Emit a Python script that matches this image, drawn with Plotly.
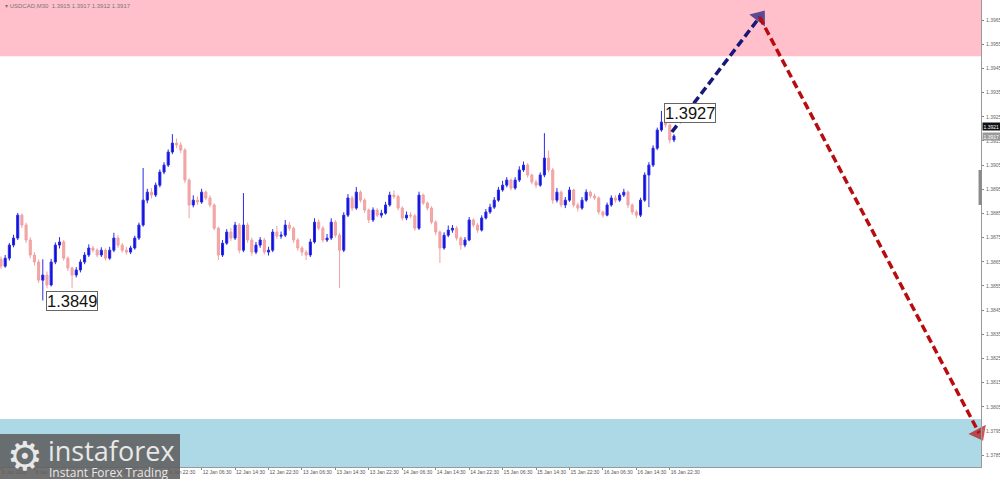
import plotly.graph_objects as go

# ---------------- data (USDCAD, M30; one candle per hour) ----------------
opens = [1.38660,1.38632,1.38665,1.38719,1.38748,1.38843,1.38802,1.38740,1.38678,1.38649,
 1.38574,1.38595,1.38554,1.38649,1.38719,1.38732,1.38665,1.38624,1.38595,1.38616,
 1.38649,1.38678,1.38707,1.38698,1.38678,1.38698,1.38665,1.38698,1.38748,1.38719,
 1.38698,1.38690,1.38707,1.38748,1.38802,1.38905,1.38938,1.38926,1.38967,1.39021,
 1.39050,1.39104,1.39141,1.39133,1.39112,1.38988,1.38885,1.38905,1.38897,1.38938,
 1.38914,1.38885,1.38789,1.38678,1.38727,1.38773,1.38748,1.38802,1.38698,1.38802,
 1.38740,1.38690,1.38719,1.38740,1.38690,1.38698,1.38773,1.38756,1.38760,1.38802,
 1.38789,1.38740,1.38707,1.38690,1.38678,1.38732,1.38814,1.38789,1.38740,1.38748,
 1.38814,1.38760,1.38698,1.38843,1.38914,1.38872,1.38938,1.38905,1.38864,1.38823,
 1.38864,1.38843,1.38851,1.38885,1.38926,1.38920,1.38872,1.38831,1.38843,1.38840,
 1.38789,1.38926,1.38893,1.38872,1.38814,1.38773,1.38707,1.38760,1.38781,1.38789,
 1.38748,1.38719,1.38740,1.38823,1.38802,1.38781,1.38831,1.38856,1.38876,1.38905,
 1.38947,1.38967,1.38988,1.38955,1.38988,1.39030,1.39050,1.39009,1.38980,1.38967,
 1.39009,1.39079,1.39030,1.38905,1.38938,1.38885,1.38905,1.38947,1.38885,1.38872,
 1.38905,1.38938,1.38922,1.38914,1.38856,1.38843,1.38885,1.38914,1.38905,1.38926,
 1.38938,1.38885,1.38856,1.38843,1.38905,1.39009,1.39050,1.39120,1.39195,1.39228,
 1.39216,1.39154]

highs = [1.38672,1.38678,1.38728,1.38762,1.38852,1.38850,1.38812,1.38752,1.38690,1.38660,
 1.38660,1.38610,1.38662,1.38730,1.38752,1.38740,1.38672,1.38630,1.38628,1.38660,
 1.38690,1.38722,1.38716,1.38706,1.38710,1.38705,1.38712,1.38770,1.38760,1.38728,
 1.38712,1.38716,1.38758,1.38812,1.39038,1.38952,1.38955,1.38978,1.39032,1.39062,
 1.39115,1.39178,1.39160,1.39145,1.39120,1.38995,1.38925,1.38920,1.38952,1.38945,
 1.38925,1.38892,1.38795,1.38740,1.38785,1.38790,1.38815,1.38810,1.38934,1.38812,
 1.38750,1.38732,1.38752,1.38748,1.38712,1.38785,1.38798,1.38775,1.38823,1.38815,
 1.38795,1.38748,1.38715,1.38700,1.38745,1.38830,1.38825,1.38798,1.38765,1.38830,
 1.38822,1.38770,1.38855,1.38930,1.38922,1.38959,1.38945,1.38912,1.38870,1.38875,
 1.38872,1.38865,1.38898,1.38940,1.38945,1.38928,1.38880,1.38858,1.38855,1.38848,
 1.38940,1.38932,1.38900,1.38880,1.38822,1.38780,1.38772,1.38800,1.38802,1.38798,
 1.38755,1.38752,1.38835,1.38830,1.38810,1.38842,1.38868,1.38890,1.38918,1.38960,
 1.38985,1.39000,1.38995,1.39000,1.39045,1.39065,1.39058,1.39015,1.38990,1.39020,
 1.39182,1.39110,1.39038,1.38955,1.38945,1.38918,1.38960,1.38952,1.38895,1.38918,
 1.38950,1.38945,1.38932,1.38920,1.38862,1.38895,1.38925,1.38925,1.38935,1.38952,
 1.38945,1.38892,1.38865,1.38915,1.39020,1.39062,1.39132,1.39205,1.39274,1.39240,
 1.39222,1.39178]

lows = [1.38620,1.38625,1.38655,1.38710,1.38740,1.38790,1.38728,1.38665,1.38635,1.38562,
 1.38490,1.38540,1.38548,1.38640,1.38705,1.38655,1.38612,1.38541,1.38585,1.38606,
 1.38640,1.38670,1.38688,1.38668,1.38670,1.38655,1.38658,1.38690,1.38708,1.38688,
 1.38680,1.38682,1.38700,1.38740,1.38795,1.38892,1.38912,1.38918,1.38958,1.39012,
 1.39042,1.39095,1.39120,1.39100,1.38975,1.38830,1.38875,1.38885,1.38890,1.38905,
 1.38875,1.38780,1.38657,1.38670,1.38720,1.38735,1.38740,1.38685,1.38690,1.38728,
 1.38675,1.38682,1.38708,1.38680,1.38676,1.38690,1.38745,1.38745,1.38752,1.38778,
 1.38728,1.38695,1.38675,1.38657,1.38670,1.38725,1.38780,1.38730,1.38732,1.38740,
 1.38750,1.38541,1.38690,1.38835,1.38860,1.38865,1.38895,1.38852,1.38810,1.38815,
 1.38835,1.38832,1.38845,1.38878,1.38910,1.38862,1.38820,1.38822,1.38830,1.38778,
 1.38782,1.38885,1.38862,1.38805,1.38760,1.38645,1.38700,1.38752,1.38770,1.38738,
 1.38700,1.38710,1.38735,1.38792,1.38770,1.38775,1.38825,1.38848,1.38868,1.38898,
 1.38940,1.38958,1.38945,1.38948,1.38980,1.39022,1.38998,1.38970,1.38955,1.38960,
 1.39000,1.39020,1.38890,1.38895,1.38875,1.38872,1.38898,1.38875,1.38858,1.38865,
 1.38898,1.38912,1.38905,1.38845,1.38832,1.38838,1.38878,1.38895,1.38898,1.38918,
 1.38872,1.38845,1.38830,1.38835,1.38898,1.38876,1.39042,1.39112,1.39188,1.39205,
 1.39140,1.39145]

closes = [1.38632,1.38665,1.38719,1.38748,1.38843,1.38802,1.38740,1.38678,1.38649,1.38574,
 1.38595,1.38554,1.38649,1.38719,1.38732,1.38665,1.38624,1.38595,1.38616,1.38649,
 1.38678,1.38707,1.38698,1.38678,1.38698,1.38665,1.38698,1.38748,1.38719,1.38698,
 1.38690,1.38707,1.38748,1.38802,1.38905,1.38938,1.38926,1.38967,1.39021,1.39050,
 1.39104,1.39141,1.39133,1.39112,1.38988,1.38885,1.38905,1.38897,1.38938,1.38914,
 1.38885,1.38789,1.38678,1.38727,1.38773,1.38748,1.38802,1.38698,1.38802,1.38740,
 1.38690,1.38719,1.38740,1.38690,1.38698,1.38773,1.38756,1.38760,1.38802,1.38789,
 1.38740,1.38707,1.38690,1.38678,1.38732,1.38814,1.38789,1.38740,1.38748,1.38814,
 1.38760,1.38698,1.38843,1.38914,1.38872,1.38938,1.38905,1.38864,1.38823,1.38864,
 1.38843,1.38851,1.38885,1.38926,1.38920,1.38872,1.38831,1.38843,1.38840,1.38789,
 1.38926,1.38893,1.38872,1.38814,1.38773,1.38707,1.38760,1.38781,1.38789,1.38748,
 1.38719,1.38740,1.38823,1.38802,1.38781,1.38831,1.38856,1.38876,1.38905,1.38947,
 1.38967,1.38988,1.38955,1.38988,1.39030,1.39050,1.39009,1.38980,1.38967,1.39009,
 1.39079,1.39030,1.38905,1.38938,1.38885,1.38905,1.38947,1.38885,1.38872,1.38905,
 1.38938,1.38922,1.38914,1.38856,1.38843,1.38885,1.38914,1.38905,1.38926,1.38938,
 1.38885,1.38856,1.38843,1.38905,1.39009,1.39050,1.39120,1.39195,1.39228,1.39216,
 1.39154,1.39170]

# bar position in M30 bars (one hourly candle every 2 bars)
bar_pos = list(range(0, 2 * len(closes), 2))

tick_bars = [0, 16, 32, 48, 64, 80, 96, 112, 128, 144, 160, 176, 192, 208, 224, 240, 256, 272, 288, 304, 320]
tick_labels = ["8 Jan 2026", "8 Jan 14:30", "8 Jan 22:30", "9 Jan 06:30", "9 Jan 14:30", "9 Jan 22:30",
               "12 Jan 06:30", "12 Jan 14:30", "12 Jan 22:30", "13 Jan 06:30", "13 Jan 14:30", "13 Jan 22:30",
               "14 Jan 06:30", "14 Jan 14:30", "14 Jan 22:30", "15 Jan 06:30", "15 Jan 14:30", "15 Jan 22:30",
               "16 Jan 06:30", "16 Jan 14:30", "16 Jan 22:30"]
price_ticks = [1.3785, 1.3795, 1.3805, 1.3815, 1.3825, 1.3835, 1.3845, 1.3855, 1.3865, 1.3875,
               1.3885, 1.3895, 1.3905, 1.3915, 1.3925, 1.3935, 1.3945, 1.3955, 1.3965]

resistance_zone = [1.3950, 1.39733]
support_zone = [1.3780, 1.3800]

wave_up_bars = [321, 363]
wave_up_prices = [1.39187, 1.39662]
wave_down_bars = [363, 468]
wave_down_prices = [1.39662, 1.37941]

bid_price = 1.3921
last_price = 1.3917
header = "USDCAD,M30  1.3915 1.3917 1.3912 1.3917"

x_range = [-0.48, 468.9]
y_range = [1.37801, 1.39733]

FONT = "Liberation Sans"

# ---------------- figure ----------------
fig = go.Figure()

fig.add_trace(go.Candlestick(
    x=bar_pos, open=opens, high=highs, low=lows, close=closes,
    increasing=dict(line=dict(color="#2a2ae6", width=1), fillcolor="#0a0ad8"),
    decreasing=dict(line=dict(color="#f2a0a0", width=1), fillcolor="#f4a8a8"),
    whiskerwidth=0, showlegend=False, hoverinfo="skip",
))

# forecast arrows
fig.add_trace(go.Scatter(
    x=wave_up_bars, y=wave_up_prices, mode="lines+markers",
    line=dict(color="#16187a", width=3.5, dash="8px,4px"),
    marker=dict(symbol="triangle-up", size=[0, 17], color="#16187a", angleref="previous",
                line=dict(width=0)),
    showlegend=False, hoverinfo="skip", cliponaxis=False,
))
fig.add_trace(go.Scatter(
    x=wave_down_bars, y=wave_down_prices, mode="lines+markers",
    line=dict(color="#b80d10", width=3.5, dash="8px,4px"),
    marker=dict(symbol="triangle-up", size=[0, 17], color="#b80d10", angleref="previous",
                line=dict(width=0)),
    showlegend=False, hoverinfo="skip", cliponaxis=False,
))

shapes = [
    dict(type="rect", xref="paper", yref="y", x0=0, x1=1, y0=resistance_zone[0], y1=resistance_zone[1],
         fillcolor="pink", line=dict(width=0), layer="below"),
    dict(type="rect", xref="paper", yref="y", x0=0, x1=1, y0=support_zone[0], y1=support_zone[1],
         fillcolor="lightblue", line=dict(width=0), layer="below"),
    # logo background
    dict(type="rect", xref="paper", yref="paper", x0=0, x1=180 / 981, y0=-12 / 467, y1=33 / 467,
         fillcolor="rgba(95,95,95,0.88)", line=dict(width=0), layer="above"),
    # scroll marker on price scale
    dict(type="rect", xref="paper", yref="paper", x0=0.9975, x1=1.0008, y0=262 / 467, y1=297 / 467,
         fillcolor="#8a8a8a", line=dict(width=0), layer="above"),
]

# extreme labels
hi_idx = max(range(len(highs)), key=lambda i: highs[i])
lo_idx = min(range(len(lows)), key=lambda i: lows[i])
annotations = [
    dict(x=bar_pos[hi_idx], y=highs[hi_idx], xref="x", yref="y", text=f"{highs[hi_idx]:.4f}",
         showarrow=False, xanchor="left", yanchor="middle", xshift=3, yshift=-2,
         font=dict(family=FONT, size=16.5, color="#111"),
         bgcolor="white", bordercolor="#666", borderwidth=1, borderpad=0),
    dict(x=bar_pos[lo_idx], y=lows[lo_idx], xref="x", yref="y", text=f"{lows[lo_idx]:.4f}",
         showarrow=False, xanchor="left", yanchor="middle", xshift=3, yshift=-1,
         font=dict(family=FONT, size=16.5, color="#111"),
         bgcolor="white", bordercolor="#666", borderwidth=1, borderpad=0),
    # header
    dict(x=0.003, y=1, xref="paper", yref="paper", text="▾ " + header, showarrow=False,
         xanchor="left", yanchor="top", yshift=-1,
         font=dict(family=FONT, size=6, color="#777")),
    # price labels on right scale
    dict(x=1, y=bid_price, xref="paper", yref="y", text=f"{bid_price:.4f}", showarrow=False,
         xanchor="left", yanchor="middle", xshift=1, bgcolor="#111", borderpad=0.5,
         font=dict(family=FONT, size=5, color="white")),
    dict(x=1, y=last_price, xref="paper", yref="y", text=f"{last_price:.4f}", showarrow=False,
         xanchor="left", yanchor="middle", xshift=1, bgcolor="#9a9a9a", borderpad=0.5,
         font=dict(family=FONT, size=5, color="white")),
    # logo
    dict(x=25 / 981, y=11 / 467, xref="paper", yref="paper", text="⚙", showarrow=False,
         xanchor="center", yanchor="middle",
         font=dict(family="DejaVu Sans", size=40, color="#e8e8e8")),
    dict(x=46 / 981, y=17 / 467, xref="paper", yref="paper", text="instaforex", showarrow=False,
         xanchor="left", yanchor="middle",
         font=dict(family="Open Sans", size=27, color="#e8e8e8")),
    dict(x=47 / 981, y=-5 / 467, xref="paper", yref="paper", text="Instant Forex Trading",
         showarrow=False, xanchor="left", yanchor="middle",
         font=dict(family="Open Sans", size=12, color="#e8e8e8")),
]

fig.update_layout(
    width=1000, height=479,
    margin=dict(l=0, r=19, t=0, b=12, autoexpand=False),
    paper_bgcolor="white", plot_bgcolor="white",
    shapes=shapes, annotations=annotations,
    showlegend=False,
    xaxis=dict(range=x_range, tickvals=tick_bars, ticktext=tick_labels, tickangle=0, automargin=False,
               ticklabelposition="outside right", ticks="outside", ticklen=2, tickcolor="#888",
               tickfont=dict(family=FONT, size=5, color="#555"),
               showline=True, linecolor="#999", linewidth=1, mirror=False,
               showgrid=False, zeroline=False, rangeslider=dict(visible=False), fixedrange=True),
    yaxis=dict(range=y_range, side="right", tickvals=price_ticks, tickformat=".4f", automargin=False,
               ticks="outside", ticklen=2, tickcolor="#888", ticklabelstandoff=1,
               tickfont=dict(family=FONT, size=5, color="#666"),
               showline=True, linecolor="#999", linewidth=1,
               showgrid=False, zeroline=False, fixedrange=True),
)

fig.write_html("out.html", config={"displayModeBar": False},
               post_script="document.body.style.margin='0px';document.body.style.padding='0px';")
